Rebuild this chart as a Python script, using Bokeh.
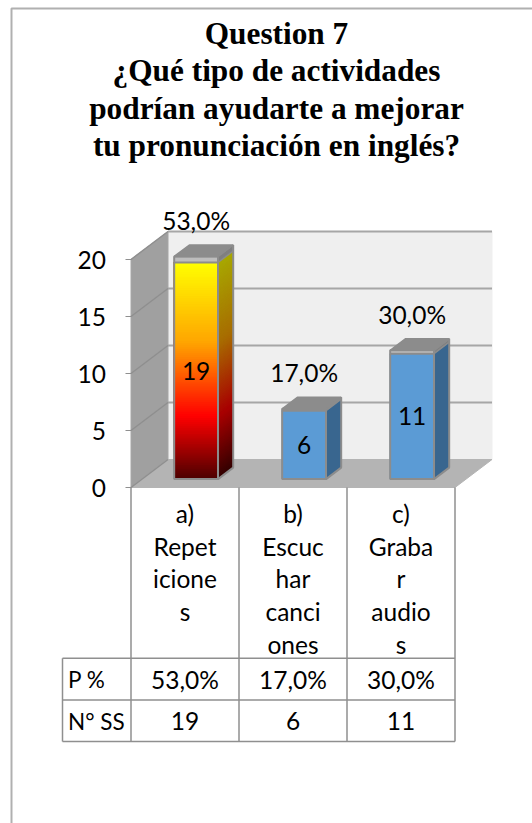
from bokeh.plotting import figure
from bokeh.models import LinearAxis, FixedTicker, Range1d
from bokeh.core.properties import value
from bokeh.embed import file_html
from bokeh.resources import INLINE

title_lines = ["Question 7", "¿Qué tipo de actividades", "podrían ayudarte a mejorar", "tu pronunciación en inglés?"]
category_lines = [["a)", "Repet", "icione", "s"], ["b)", "Escuc", "har", "canci", "ones"], ["c)", "Graba", "r", "audio", "s"]]
n_ss = [19, 6, 11]
p_pct = [0.53, 0.17, 0.30]
row_names = ["P %", "N° SS"]
y_ticks = [0, 5, 10, 15, 20]

W, H = 532, 823
UX, UY = 108.0, 11.4          # px per category, px per value unit
X0, Y0 = 130.5, 487.0         # page position of (0,0)
DX, DY = 37 / UX, 28 / UY     # full-depth shift in data units

def ux(px): return (px - X0) / UX
def vy(py): return (Y0 - py) / UY
def pj(u, v, d=0.0): return (u + d * DX, v + d * DY)
def pct(q): return ("%.1f%%" % (q * 100)).replace(".", ",")

p = figure(width=W, height=H, output_backend="svg", toolbar_location=None,
           x_axis_type=None, y_axis_type=None, min_border=0,
           x_range=Range1d(ux(0), ux(W)), y_range=Range1d(vy(H), vy(0)))
p.grid.visible = False
p.outline_line_color = None
p.background_fill_color = "white"

FONT = value("Lato")
SERIF = value("Liberation Serif")
SIZE = "24.5px"
GRID = "#a6a6a6"
EDGE = "#8c8c8c"
N = len(n_ss)
TOP = y_ticks[-1]

def poly(pts, fill, line=None, lw=1.0):
    p.patch([q[0] for q in pts], [q[1] for q in pts], fill_color=fill, line_color=line or fill, line_width=lw)

# chart frame
p.line([ux(11), ux(11), ux(W)], [vy(H), vy(8), vy(8)], line_color="#b0b0b0", line_width=2)

# walls and floor
poly([pj(0, 0, 1), pj(N, 0, 1), pj(N, TOP, 1), pj(0, TOP, 1)], "#efefef")
poly([pj(0, 0, 0), pj(0, 0, 1), pj(0, TOP, 1), pj(0, TOP, 0)], "#a0a0a0", GRID)
poly([pj(0, 0, 0), pj(N, 0, 0), pj(N, 0, 1), pj(0, 0, 1)], "#b4b4b4", "#b4b4b4")

for t in y_ticks:
    a, b, c = pj(0, t, 0), pj(0, t, 1), pj(N, t, 1)
    if t > 0:
        p.line([b[0], c[0]], [b[1], c[1]], line_color=GRID, line_width=2)
    p.line([a[0], b[0]], [a[1], b[1]], line_color="#8f8f8f", line_width=1.5)

axis = LinearAxis(ticker=FixedTicker(ticks=y_ticks), fixed_location=0)
axis.axis_line_color = None
axis.major_tick_in = 0
axis.major_tick_out = 6
axis.minor_tick_line_color = None
axis.major_tick_line_color = "#8f8f8f"
axis.major_label_standoff = 19
axis.major_label_text_font = "Lato"
axis.major_label_text_font_size = SIZE
axis.major_label_text_color = "black"
p.add_layout(axis, "left")

# bars
HALF = 0.203
D0, D1 = 0.30, 0.71
stops = [(0.0, (76, 0, 0)), (0.29, (255, 0, 0)), (0.63, (255, 165, 0)), (1.0, (255, 255, 0))]

def grad(f, k=1.0):
    for (f0, c0), (f1, c1) in zip(stops, stops[1:]):
        if f <= f1:
            m = (f - f0) / (f1 - f0)
            return tuple(int(round(k * (a + (b - a) * m))) for a, b in zip(c0, c1))
    return tuple(int(k * x) for x in stops[-1][1])

def hexc(c): return "#%02x%02x%02x" % c

for i, (n, q) in enumerate(zip(n_ss, p_pct)):
    l, r = i + 0.5 - HALF, i + 0.5 + HALF
    top = n + q
    if i == 0:
        bands = 110
        for b in range(bands):
            v0 = n * b / bands
            f = (b + 0.5) / bands
            col = hexc(grad(f))
            poly([pj(l, v0, D0), pj(r, v0, D0), pj(r, n, D0), pj(l, n, D0)], col, col, 0.1)
            col = hexc(grad(f, 0.66))
            poly([pj(r, v0, D0), pj(r, v0, D1), pj(r, n, D1), pj(r, n, D0)], col, col, 0.1)
    else:
        poly([pj(l, 0, D0), pj(r, 0, D0), pj(r, n, D0), pj(l, n, D0)], "#5b9bd5")
        poly([pj(r, 0, D0), pj(r, 0, D1), pj(r, n, D1), pj(r, n, D0)], "#39668f")
    poly([pj(r, n, D0), pj(r, n, D1), pj(r, top, D1), pj(r, top, D0)], "#7f7f7f", EDGE, 1.5)
    poly([pj(l, n, D0), pj(r, n, D0), pj(r, top, D0), pj(l, top, D0)], "#bdbdbd", EDGE, 2)
    poly([pj(l, top, D0), pj(r, top, D0), pj(r, top, D1), pj(l, top, D1)], "#8c8c8c", EDGE, 1.5)
    xs = [pj(l, n, D0), pj(l, 0, D0), pj(r, 0, D0), pj(r, n, D0), pj(r, 0, D0), pj(r, 0, D1), pj(r, top, D1)]
    p.line([a[0] for a in xs], [a[1] for a in xs], line_color=EDGE, line_width=2)
    cx, cy = pj(i + 0.5, n / 2, D0)
    p.text([cx], [cy], text=[str(n)], text_font=FONT, text_font_size=SIZE, text_color="black",
           text_align="center", text_baseline="middle")
    tx, ty = pj(i + 0.5, top, D0)
    p.text([tx], [ty], text=[pct(q)], text_font=FONT, text_font_size=SIZE, text_color="black",
           text_align="center", text_baseline="middle", y_offset=-36)

# table
R1, R2, R3 = vy(657.7), vy(699.5), vy(741)
LEFT = ux(62)
TBL = "#8f8f8f"
for i in range(N + 1):
    p.line([i, i], [0, R3], line_color=TBL, line_width=1.5)
for yy in (R1, R2, R3):
    p.line([LEFT, N], [yy, yy], line_color=TBL, line_width=1.5)
p.line([LEFT, LEFT], [R1, R3], line_color=TBL, line_width=1.5)

for i, lines in enumerate(category_lines):
    for k, s in enumerate(lines):
        p.text([i + 0.5], [vy(513 + k * 32.7)], text=[s], text_font=FONT, text_font_size=SIZE,
               text_color="black", text_align="center", text_baseline="middle")
    p.text([i + 0.5], [vy(679)], text=[pct(p_pct[i])], text_font=FONT,
           text_font_size=SIZE, text_color="black", text_align="center", text_baseline="middle")
    p.text([i + 0.5], [vy(720.7)], text=[str(n_ss[i])], text_font=FONT, text_font_size=SIZE,
           text_color="black", text_align="center", text_baseline="middle")
for name, py in zip(row_names, (679, 720.7)):
    p.text([ux(67.5)], [vy(py)], text=[name], text_font=FONT, text_font_size="22.5px",
           text_color="black", text_align="left", text_baseline="middle")

# title
for k, s in enumerate(title_lines):
    p.text([ux(276)], [vy(33 + k * 37.3)], text=[s], text_font=SERIF, text_font_size="31.3px",
           text_font_style="bold", text_color="black", text_align="center", text_baseline="middle")

open("out.html", "w").write(file_html(p, INLINE))
